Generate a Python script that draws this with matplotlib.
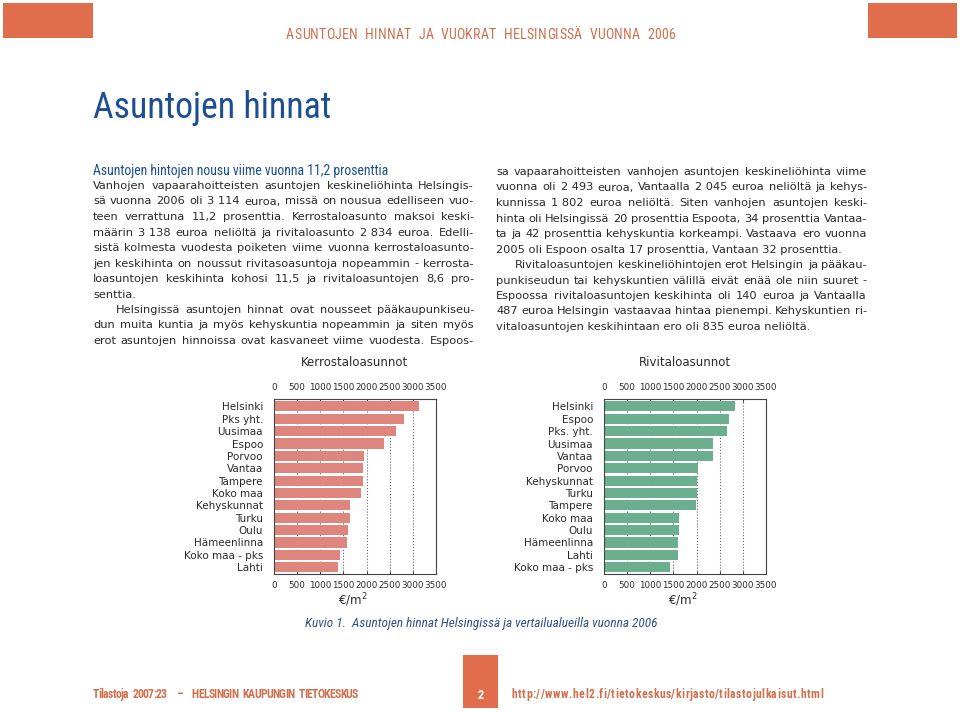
import numpy as np
import matplotlib
matplotlib.use("Agg")
import matplotlib.pyplot as plt
from matplotlib import font_manager as fm
from matplotlib.patches import Rectangle

# --- data ---
kerros_alueet = ["Helsinki", "Pks yht.", "Uusimaa", "Espoo", "Porvoo", "Vantaa", "Tampere",
                 "Koko maa", "Kehyskunnat", "Turku", "Oulu", "Hämeenlinna", "Koko maa - pks", "Lahti"]
kerros_hinta = [3138, 2810, 2635, 2370, 1940, 1928, 1920, 1890, 1652, 1645, 1588, 1573, 1430, 1385]

rivi_alueet = ["Helsinki", "Espoo", "Pks. yht.", "Uusimaa", "Vantaa", "Porvoo", "Kehyskunnat",
               "Turku", "Tampere", "Koko maa", "Oulu", "Hämeenlinna", "Lahti", "Koko maa - pks"]
rivi_hinta = [2834, 2694, 2655, 2352, 2347, 2035, 1999, 2000, 1977, 1631, 1616, 1609, 1602, 1436]

x_ticks = [0, 500, 1000, 1500, 2000, 2500, 3000, 3500]

teksti_vasen = [
    "Vanhojen vapaarahoitteisten asuntojen keskineliöhinta Helsingis-",
    "sä vuonna 2006 oli 3\u00a0114 euroa, missä on nousua edelliseen vuo-",
    "teen verrattuna 11,2 prosenttia. Kerrostaloasunto maksoi keski-",
    "määrin 3\u00a0138 euroa neliöltä ja rivitaloasunto 2\u00a0834 euroa. Edelli-",
    "sistä kolmesta vuodesta poiketen viime vuonna kerrostaloasunto-",
    "jen keskihinta on noussut rivitasoasuntoja nopeammin - kerrosta-",
    "loasuntojen keskihinta kohosi 11,5 ja rivitaloasuntojen 8,6 pro-",
    "senttia.",
    "Helsingissä asuntojen hinnat ovat nousseet pääkaupunkiseu-",
    "dun muita kuntia ja myös kehyskuntia nopeammin ja siten myös",
    "erot asuntojen hinnoissa ovat kasvaneet viime vuodesta. Espoos-",
]
teksti_oikea = [
    "sa vapaarahoitteisten vanhojen asuntojen keskineliöhinta viime",
    "vuonna oli 2\u00a0493 euroa, Vantaalla 2\u00a0045 euroa neliöltä ja kehys-",
    "kunnissa 1\u00a0802 euroa neliöltä. Siten vanhojen asuntojen keski-",
    "hinta oli Helsingissä 20 prosenttia Espoota, 34 prosenttia Vantaa-",
    "ta ja 42 prosenttia kehyskuntia korkeampi. Vastaava ero vuonna",
    "2005 oli Espoon osalta 17 prosenttia, Vantaan 32 prosenttia.",
    "Rivitaloasuntojen keskineliöhintojen erot Helsingin ja pääkau-",
    "punkiseudun tai kehyskuntien välillä eivät enää ole niin suuret -",
    "Espoossa rivitaloasuntojen keskihinta oli 140 euroa ja Vantaalla",
    "487 euroa Helsingin vastaavaa hintaa pienempi. Kehyskuntien ri-",
    "vitaloasuntojen keskihintaan ero oli 835 euroa neliöltä.",
]
# rivit joita ei tasata / sisennetyt rivit
vasen_loppu, vasen_sisennys = [7], [8]
oikea_loppu, oikea_sisennys = [5, 10], [6]

ORANSSI = "#E06E4C"
SININEN = "#1B4F91"
TEKSTI = "#2a2a2a"
W, H = 960, 712

# kapea fontti jos sellainen on asennettu
nimet = {f.name for f in fm.fontManager.ttflist}
KAPEA = next((n for n in ["Liberation Sans Narrow", "Roboto Condensed", "Open Sans Condensed",
                          "Noto Sans Condensed", "DejaVu Sans Condensed"] if n in nimet),
             "Liberation Sans")

fig = plt.figure(figsize=(W / 100, H / 100), dpi=100)
renderer = fig.canvas.get_renderer()


def fx(x):
    return x / W


def fy(y):
    return 1 - y / H


def leveys(s, **kw):
    t = fig.text(0, 0, s, **kw)
    w = t.get_window_extent(renderer).width
    t.remove()
    return w


def sovita(s, x0, x1, y, **kw):
    # fonttikoko niin etta teksti tayttaa valin x0..x1
    koko = 20 * (x1 - x0) / leveys(s, fontsize=20, **kw)
    fig.text(fx(x0), fy(y), s, fontsize=koko, ha="left", va="baseline", **kw)


def tasattu(rivit, x0, x1, y0, dy, loppu, sisennys, indent, **kw):
    for i, rivi in enumerate(rivit):
        y = fy(y0 + dy * i)
        xa = x0 + (indent if i in sisennys else 0)
        if i in loppu:
            fig.text(fx(xa), y, rivi, va="center", ha="left", **kw)
            continue
        sanat = rivi.split(" ")
        ws = [leveys(s, **kw) for s in sanat]
        vali = (x1 - xa - sum(ws)) / (len(sanat) - 1)
        x = xa
        for s, w in zip(sanat, ws):
            fig.text(fx(x), y, s, va="center", ha="left", **kw)
            x += w + vali


def harvennettu(s, x0, x1, y, **kw):
    ws = [leveys(c, **kw) if c != " " else leveys("n", **kw) for c in s]
    vali = (x1 - x0 - sum(ws)) / (len(s) - 1)
    x = x0
    for c, w in zip(s, ws):
        if c != " ":
            fig.text(fx(x), fy(y), c, va="baseline", ha="left", **kw)
        x += w + vali


# --- header ---
fig.patches.append(Rectangle((fx(3), fy(38)), fx(90), 35 / H, transform=fig.transFigure,
                             color=ORANSSI, lw=0))
fig.patches.append(Rectangle((fx(868), fy(38)), fx(89), 35 / H, transform=fig.transFigure,
                             color=ORANSSI, lw=0))
harvennettu("ASUNTOJEN HINNAT JA VUOKRAT HELSINGISSÄ VUONNA 2006", 286, 675, 39,
            fontsize=10, color="#D0704E", family=KAPEA)

sovita("Asuntojen hinnat", 93, 330, 118, color=SININEN, family=KAPEA)
sovita("Asuntojen hintojen nousu viime vuonna 11,2 prosenttia", 93, 390, 175,
       color=SININEN, family=KAPEA)

# --- body text ---
tasattu(teksti_vasen, 93, 474, 186, 15.5, vasen_loppu, vasen_sisennys, 23,
        fontsize=8.2, color=TEKSTI, family="DejaVu Sans")
tasattu(teksti_oikea, 496, 867, 172, 15.5, oikea_loppu, oikea_sisennys, 19,
        fontsize=8.2, color=TEKSTI, family="DejaVu Sans")


# --- charts ---
def kaavio(x0, x1, alueet, hinnat, vari, otsikko):
    ax = fig.add_axes([fx(x0), fy(574), (x1 - x0) / W, (574 - 399) / H])
    y = np.arange(len(alueet))
    ax.barh(y, hinnat, height=0.82, color=vari, zorder=2)
    ax.set_xlim(0, 3500)
    ax.set_ylim(len(alueet) - 0.45, -0.6)
    ax.set_xticks(x_ticks)
    ax.set_yticks(y)
    ax.set_yticklabels(alueet, fontsize=7.5, color=TEKSTI)
    ax.tick_params(axis="y", length=0, pad=8)
    ax.tick_params(axis="x", direction="in", length=2.5, top=True, labeltop=True,
                   labelsize=6.3, colors=TEKSTI, pad=5, width=0.6)
    ax.grid(axis="x", linestyle=":", color="#666666", linewidth=0.8, zorder=1)
    for s in ax.spines.values():
        s.set_linewidth(0.8)
        s.set_color("#444444")
    xc = (x0 + x1) / 2
    fig.text(fx(xc), fy(362), otsikko, fontsize=8.5, color=TEKSTI, ha="center", va="center")
    fig.text(fx(xc - 2), fy(600), "€/m$^2$", fontsize=8.5, color=TEKSTI, ha="center", va="center")
    return ax


kaavio(274, 436, kerros_alueet, kerros_hinta, "#DE867E", "Kerrostaloasunnot")
kaavio(604, 766, rivi_alueet, rivi_hinta, "#6BAF8E", "Rivitaloasunnot")

sovita("Kuvio 1.  Asuntojen hinnat Helsingissä ja vertailualueilla vuonna 2006", 305, 657, 627,
       style="italic", color="#2E4F8C", family=KAPEA)

# --- footer ---
fig.patches.append(Rectangle((fx(463), fy(708)), fx(35), 53 / H, transform=fig.transFigure,
                             color=ORANSSI, lw=0))
fig.text(fx(480.5), fy(699), "2", fontsize=9, color="white", weight="bold",
         ha="center", va="baseline", family=KAPEA)
harvennettu("Tilastoja 2007:23  –  HELSINGIN KAUPUNGIN TIETOKESKUS", 93, 358, 698,
            fontsize=8.5, color="#D0704E", weight="bold", family=KAPEA)
harvennettu("http://www.hel2.fi/tietokeskus/kirjasto/tilastojulkaisut.html", 512, 823, 698,
            fontsize=8.5, color="#D0704E", weight="bold", family=KAPEA)

fig.savefig("out.png", dpi=100)
